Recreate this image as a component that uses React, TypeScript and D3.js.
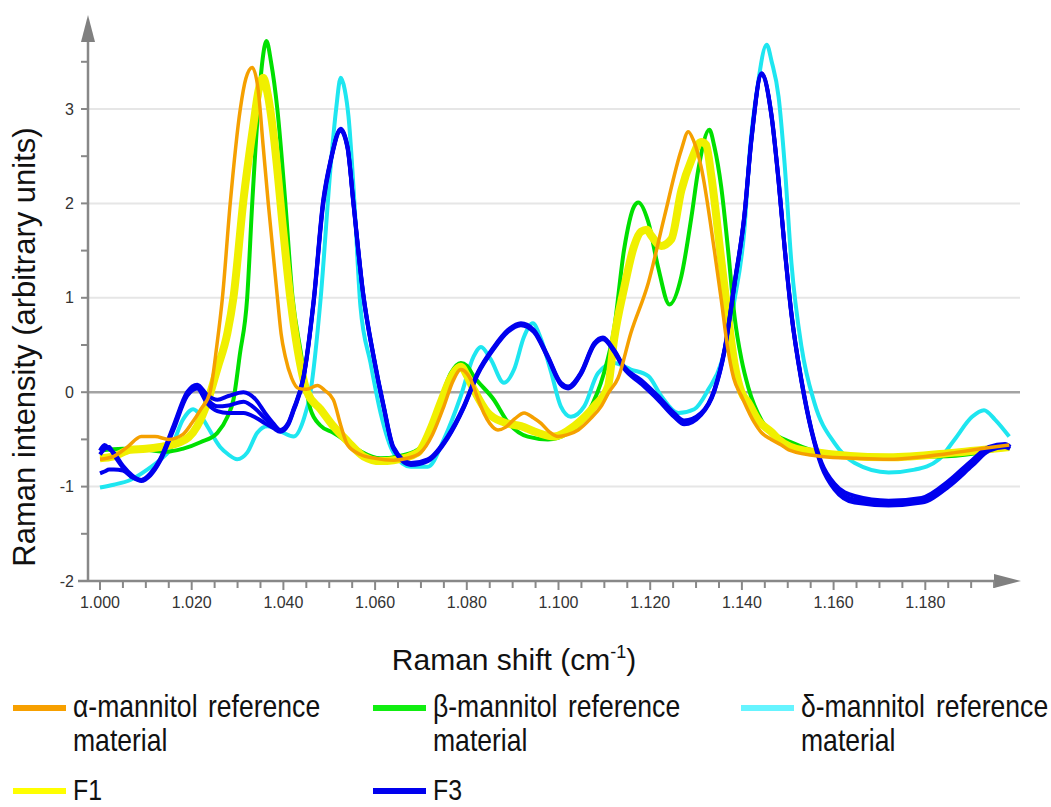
import { useRef, useEffect } from 'react';
import * as d3 from 'd3';

// Raman shift in cm-1 (axis shows it with "." as thousands separator), intensity in arbitrary units
const alphaMannitol: [number, number][] = [
  [1000, -0.71], [1003, -0.68], [1006, -0.58], [1009, -0.47], [1012, -0.47], [1015, -0.5],
  [1018, -0.45], [1020, -0.33], [1022, -0.18], [1024, 0.0], [1025.5, 0.5], [1026.7, 1.0],
  [1028.4, 2.0], [1030.6, 3.0], [1031.8, 3.32], [1033.2, 3.44], [1034.5, 3.2], [1035.6, 2.6],
  [1036.7, 2.0], [1038.7, 1.0], [1039.5, 0.62], [1040.4, 0.38], [1041.8, 0.15], [1043.3, 0.04],
  [1045, 0.03], [1047.4, 0.07], [1049, 0.02], [1050.9, -0.08], [1052.5, -0.35], [1054, -0.56],
  [1056.8, -0.66], [1060, -0.7], [1064, -0.72], [1067, -0.7], [1069.9, -0.64], [1072.5, -0.45],
  [1075, -0.15], [1077, 0.12], [1078.7, 0.24], [1080, 0.2], [1080.9, 0.13], [1082.5, -0.08],
  [1083.7, -0.22], [1085, -0.33], [1086.8, -0.4], [1088.5, -0.37], [1090.5, -0.28], [1092.5, -0.22],
  [1094.5, -0.27], [1096.2, -0.33], [1098, -0.42], [1099.9, -0.47], [1102, -0.45], [1104.3, -0.4],
  [1107, -0.28], [1109.3, -0.15], [1111, 0.0], [1113, 0.15], [1115.8, 0.63], [1119.6, 1.16],
  [1123.1, 1.86], [1126.8, 2.57], [1128.3, 2.76], [1129.5, 2.66], [1131.1, 2.39], [1134, 1.5],
  [1135.5, 0.98], [1136.8, 0.5], [1138.2, 0.15], [1139.9, -0.04], [1142.7, -0.32], [1144.3, -0.43],
  [1146.4, -0.5], [1148.6, -0.56], [1150.2, -0.61], [1157.4, -0.68], [1165, -0.7], [1172, -0.71],
  [1180, -0.68], [1186.4, -0.64], [1192, -0.6], [1198.3, -0.56],
];

const betaMannitol: [number, number][] = [
  [1000, -0.62], [1005, -0.6], [1010, -0.61], [1014.6, -0.63], [1018, -0.6], [1021.9, -0.53],
  [1025.6, -0.43], [1027.8, -0.26], [1029.1, -0.08], [1030.5, 0.4], [1032.1, 1.0], [1033.2, 2.0],
  [1034.5, 3.0], [1035.4, 3.5], [1036.3, 3.72], [1037.3, 3.5], [1038.7, 2.99], [1040.4, 2.02],
  [1042, 1.0], [1043.7, 0.45], [1045.9, -0.18], [1048, -0.35], [1050.9, -0.43], [1054, -0.53],
  [1057, -0.63], [1061.2, -0.7], [1065, -0.68], [1069.3, -0.61], [1072, -0.4], [1074.3, -0.08],
  [1076.5, 0.2], [1078.7, 0.31], [1080, 0.28], [1081.5, 0.17], [1085.9, -0.08], [1089, -0.32],
  [1093.3, -0.47], [1097.7, -0.5], [1102.1, -0.43], [1106.4, -0.22], [1109.9, 0.2], [1112.1, 0.66],
  [1114.3, 1.51], [1116.5, 1.97], [1117.4, 2.01], [1119.6, 1.8], [1121.7, 1.33], [1124.2, 0.93],
  [1126.8, 1.23], [1129, 1.86], [1130.5, 2.36], [1132.9, 2.78], [1134, 2.6], [1135.5, 2.17],
  [1137, 1.5], [1138.4, 0.8], [1139.9, 0.35], [1141.4, 0.05], [1144.3, -0.3], [1148, -0.47],
  [1150.2, -0.52], [1157.4, -0.64], [1172, -0.68], [1183, -0.68], [1198.3, -0.58],
];

const deltaMannitol: [number, number][] = [
  [1000, -1.01], [1003, -0.98], [1006.6, -0.93], [1010.3, -0.82], [1013, -0.72], [1015.3, -0.61],
  [1018.1, -0.29], [1019.5, -0.2], [1020.3, -0.18], [1022, -0.25], [1023.4, -0.36], [1026.2, -0.58],
  [1028, -0.66], [1029.9, -0.71], [1032.1, -0.64], [1034.3, -0.43], [1036.5, -0.36], [1038, -0.38],
  [1040, -0.43], [1042.2, -0.47], [1044.4, -0.29], [1045.9, 0.0], [1048.1, 0.98], [1050.3, 2.39],
  [1051.5, 3.0], [1052.5, 3.33], [1053.4, 3.2], [1054.2, 2.92], [1055.5, 2.0], [1056.8, 0.91],
  [1059, 0.31], [1061.2, -0.22], [1064, -0.64], [1067.8, -0.79], [1071.5, -0.79], [1075, -0.5],
  [1078.7, -0.04], [1081.5, 0.38], [1083.1, 0.48], [1085.2, 0.35], [1088.1, 0.1], [1090.3, 0.24],
  [1092.5, 0.59], [1094.4, 0.73], [1096.2, 0.56], [1098.4, 0.21], [1100.5, -0.15], [1102.7, -0.26],
  [1105.6, -0.15], [1108.6, 0.2], [1112.1, 0.31], [1115.8, 0.24], [1119.6, 0.17], [1122.4, -0.04],
  [1126.1, -0.22], [1129.6, -0.18], [1132.7, 0.03], [1135.5, 0.31], [1138.4, 0.98], [1140.5, 1.7],
  [1141.8, 2.6], [1143.3, 3.2], [1145.4, 3.68], [1146.5, 3.5], [1148, 3.13], [1149.3, 2.43],
  [1150.8, 1.37], [1153, 0.48], [1155.8, -0.11], [1160.2, -0.54], [1164.6, -0.75], [1172, -0.85],
  [1177.7, -0.82], [1183, -0.71], [1186.4, -0.5], [1190.2, -0.26], [1192.8, -0.19], [1195.2, -0.29],
  [1198.3, -0.47],
];

const f1: [number, number][] = [
  [1000, -0.7], [1003, -0.68], [1006.6, -0.61], [1010, -0.6], [1013.1, -0.58], [1017.5, -0.53],
  [1021.2, -0.36], [1023.4, -0.11], [1025.6, 0.25], [1027.8, 0.63], [1029.1, 1.0], [1031.3, 2.04],
  [1033.4, 2.81], [1034.6, 3.2], [1035.6, 3.33], [1036.6, 3.15], [1037.8, 2.75], [1040, 1.69],
  [1041.5, 1.0], [1043.1, 0.45], [1045.2, 0.0], [1048.1, -0.18], [1050.9, -0.36], [1054, -0.52],
  [1057.5, -0.68], [1061.2, -0.73], [1064, -0.72], [1069.3, -0.64], [1072, -0.4], [1074.3, -0.11],
  [1076.5, 0.15], [1078.7, 0.27], [1080, 0.18], [1081.5, 0.03], [1084.6, -0.22], [1088.1, -0.32],
  [1091.8, -0.36], [1095.5, -0.43], [1099, -0.47], [1103.4, -0.36], [1107.8, -0.15], [1110.8, 0.06],
  [1112.1, 0.55], [1114.3, 1.1], [1116.5, 1.55], [1118, 1.7], [1119.3, 1.72], [1120.2, 1.66],
  [1122.4, 1.55], [1124.6, 1.62], [1126.8, 2.14], [1129, 2.46], [1131.1, 2.65], [1132.2, 2.62],
  [1133.3, 2.3], [1135.5, 1.4], [1137, 0.8], [1138.4, 0.3], [1139.9, 0.0], [1141.4, -0.11],
  [1143.6, -0.3], [1146.4, -0.42], [1148, -0.5], [1153.7, -0.62], [1172, -0.69], [1186.4, -0.64],
  [1198.3, -0.58],
];

// F3: [shift, replicate 1, replicate 2, replicate 3]
const f3Replicates: number[][] = [
  [1000, -0.62, -0.66, -0.86], [1001, -0.56, -0.6, -0.84], [1002, -0.6, -0.58, -0.82],
  [1003, -0.64, -0.66, -0.82], [1005, -0.78, -0.8, -0.83], [1007, -0.88, -0.9, -0.9],
  [1009, -0.93, -0.93, -0.94], [1011, -0.86, -0.87, -0.88], [1013.1, -0.71, -0.72, -0.73],
  [1016, -0.36, -0.38, -0.4], [1019, 0.0, -0.02, -0.04], [1021.2, 0.08, 0.06, 0.04],
  [1023.4, -0.03, -0.08, -0.12], [1025.6, -0.08, -0.15, -0.2], [1028, -0.04, -0.14, -0.22],
  [1031.3, 0.0, -0.1, -0.22], [1034, -0.08, -0.18, -0.27], [1036, -0.22, -0.28, -0.33],
  [1037.8, -0.33, -0.35, -0.38], [1039.3, -0.4, -0.41, -0.42], [1041, -0.33, -0.34, -0.35],
  [1042.2, -0.18, -0.19, -0.2], [1044.4, 0.17, 0.16, 0.15], [1046.6, 0.98, 0.96, 0.95],
  [1048.7, 2.04, 2.02, 2.0], [1050.3, 2.46, 2.45, 2.44], [1052.5, 2.79, 2.78, 2.77],
  [1054, 2.6, 2.59, 2.58], [1055.3, 2.0, 1.99, 1.98], [1057.4, 1.05, 1.04, 1.03],
  [1059.7, 0.38, 0.37, 0.36], [1061.9, -0.15, -0.16, -0.17], [1064, -0.58, -0.59, -0.6],
  [1067.8, -0.75, -0.76, -0.77], [1071.5, -0.71, -0.72, -0.73], [1075.8, -0.47, -0.48, -0.49],
  [1079.3, -0.15, -0.16, -0.17], [1082.4, 0.21, 0.2, 0.19], [1085.9, 0.48, 0.47, 0.46],
  [1089, 0.66, 0.65, 0.64], [1091.8, 0.73, 0.72, 0.71], [1094.6, 0.66, 0.65, 0.64],
  [1097.7, 0.38, 0.37, 0.36], [1100.5, 0.1, 0.09, 0.08], [1102.1, 0.06, 0.05, 0.04],
  [1104.9, 0.21, 0.2, 0.19], [1107.8, 0.52, 0.51, 0.5], [1109.7, 0.58, 0.57, 0.56],
  [1112.1, 0.45, 0.44, 0.43], [1114.3, 0.27, 0.26, 0.25], [1118, 0.13, 0.11, 0.09],
  [1121.7, -0.04, -0.06, -0.08], [1125.2, -0.22, -0.24, -0.26], [1127.4, -0.3, -0.32, -0.34],
  [1131.1, -0.22, -0.23, -0.24], [1134, 0.03, 0.02, 0.01], [1136.2, 0.45, 0.44, 0.43],
  [1138.4, 1.16, 1.15, 1.14], [1140.5, 1.86, 1.85, 1.84], [1142.1, 2.7, 2.69, 2.68],
  [1144.3, 3.38, 3.37, 3.36], [1146.4, 2.96, 2.95, 2.94], [1148, 2.25, 2.24, 2.23],
  [1149.3, 1.55, 1.54, 1.53], [1150.8, 0.84, 0.83, 0.82], [1153, 0.13, 0.12, 0.11],
  [1155.2, -0.4, -0.41, -0.42], [1157.4, -0.75, -0.77, -0.79], [1160.2, -0.97, -1.0, -1.03],
  [1164.6, -1.1, -1.14, -1.17], [1172, -1.15, -1.17, -1.2], [1179.2, -1.12, -1.14, -1.17],
  [1185.1, -0.94, -0.97, -1.0], [1190.2, -0.72, -0.75, -0.78], [1193.9, -0.58, -0.6, -0.62],
  [1197.4, -0.55, -0.56, -0.58], [1198.5, -0.58, -0.58, -0.6],
];

const yTickValues = [-2, -1, 0, 1, 2, 3];
const xTickValues = [1000, 1020, 1040, 1060, 1080, 1100, 1120, 1140, 1160, 1180];

const legendRow1 = [
  { first: 'α-mannitol', second: 'reference', third: 'material', color: '#F7A000', x: 13 },
  { first: 'β-mannitol', second: 'reference', third: 'material', color: '#11EE11', x: 373 },
  { first: 'δ-mannitol', second: 'reference', third: 'material', color: '#66F4FF', x: 741 },
];
const legendRow2 = [
  { label: 'F1', color: '#FFFF00', x: 13 },
  { label: 'F3', color: '#0000EE', x: 373 },
];

const Chart = () => {
  const ref = useRef<SVGSVGElement>(null);

  useEffect(() => {
    const svg = d3.select(ref.current);
    svg.selectAll('*').remove();

    const x = d3.scaleLinear().domain([1000, 1200]).range([100, 1017]);
    const y = d3.scaleLinear().domain([-2, 3]).range([581, 109]);
    const axisX = 88;
    const axisColor = '#888888';
    const font = "'Liberation Sans', Arial, sans-serif";

    // grid
    svg.append('g')
      .selectAll('line')
      .data(yTickValues.filter(d => d !== 0 && d !== -2))
      .join('line')
      .attr('x1', axisX).attr('x2', 1020)
      .attr('y1', d => y(d)).attr('y2', d => y(d))
      .attr('stroke', '#e6e6e6').attr('stroke-width', 2);

    svg.append('line')
      .attr('x1', axisX).attr('x2', 1020)
      .attr('y1', y(0)).attr('y2', y(0))
      .attr('stroke', '#a3a3a3').attr('stroke-width', 2.5);

    const line = d3.line<[number, number]>()
      .x(d => x(d[0]))
      .y(d => y(d[1]))
      .curve(d3.curveMonotoneX);

    const plot = svg.append('g').attr('fill', 'none').attr('stroke-linejoin', 'round');

    plot.append('path').attr('d', line(deltaMannitol)).attr('stroke', '#1EE6F0').attr('stroke-width', 4);
    plot.append('path').attr('d', line(betaMannitol)).attr('stroke', '#00E000').attr('stroke-width', 4);
    plot.append('path').attr('d', line(f1)).attr('stroke', '#F0F000').attr('stroke-width', 8);

    // F3 replicates
    [1, 2, 3].forEach(k => {
      const rep = f3Replicates.map(r => [r[0], r[k]] as [number, number]);
      plot.append('path').attr('d', line(rep)).attr('stroke', '#0000EE').attr('stroke-width', 4);
    });

    plot.append('path').attr('d', line(alphaMannitol)).attr('stroke', '#F5A000').attr('stroke-width', 3.5);

    // y axis
    svg.append('line')
      .attr('x1', axisX).attr('x2', axisX).attr('y1', 582).attr('y2', 40)
      .attr('stroke', axisColor).attr('stroke-width', 2.5);
    svg.append('path').attr('d', 'M81,42 L95,42 L88,15 Z').attr('fill', '#808080');

    svg.append('g')
      .selectAll('line')
      .data(d3.range(-2, 3.6, 0.5))
      .join('line')
      .attr('x1', 81).attr('x2', axisX)
      .attr('y1', d => y(d)).attr('y2', d => y(d))
      .attr('stroke', axisColor).attr('stroke-width', 2);

    svg.append('g')
      .selectAll('text')
      .data(yTickValues)
      .join('text')
      .attr('x', 74).attr('y', d => y(d)).attr('dy', '0.35em')
      .attr('text-anchor', 'end')
      .attr('font-family', font).attr('font-size', 16).attr('fill', '#333')
      .text(d => String(d));

    // x axis
    svg.append('line')
      .attr('x1', 78).attr('x2', 996).attr('y1', 581).attr('y2', 581)
      .attr('stroke', axisColor).attr('stroke-width', 2.5);
    svg.append('path').attr('d', 'M994,574 L994,588 L1021,581 Z').attr('fill', '#808080');

    svg.append('g')
      .selectAll('line')
      .data(d3.range(1000, 1196, 5))
      .join('line')
      .attr('x1', d => x(d)).attr('x2', d => x(d))
      .attr('y1', 581).attr('y2', d => (d % 20 === 0 ? 590 : 588))
      .attr('stroke', axisColor).attr('stroke-width', 2);

    svg.append('g')
      .selectAll('text')
      .data(xTickValues)
      .join('text')
      .attr('x', d => x(d)).attr('y', 608)
      .attr('text-anchor', 'middle')
      .attr('font-family', font).attr('font-size', 16).attr('fill', '#333')
      .text(d => (d / 1000).toFixed(3));

    // axis titles
    const xTitle = svg.append('text')
      .attr('x', 514).attr('y', 670)
      .attr('text-anchor', 'middle')
      .attr('font-family', font).attr('font-size', 30).attr('fill', '#111');
    xTitle.append('tspan').text('Raman shift (cm');
    xTitle.append('tspan').attr('font-size', 18).attr('dy', -12).text('-1');
    xTitle.append('tspan').attr('dy', 12).text(')');

    svg.append('text')
      .attr('transform', 'translate(35,347) rotate(-90)')
      .attr('text-anchor', 'middle')
      .attr('font-family', font).attr('font-size', 31).attr('fill', '#111')
      .text('Raman intensity (arbitrary units)');

    // legend
    const narrowText = (tx: number, ty: number, s: string, size = 32) => {
      svg.append('text')
        .attr('transform', `translate(${tx},${ty}) scale(0.83,1)`)
        .attr('font-family', font).attr('font-size', size).attr('fill', '#111')
        .text(s);
    };

    legendRow1.forEach(item => {
      svg.append('line')
        .attr('x1', item.x).attr('x2', item.x + 53)
        .attr('y1', 708).attr('y2', 708)
        .attr('stroke', item.color).attr('stroke-width', 6);
      const tx = item.x + 60;
      narrowText(tx, 717, item.first);
      narrowText(tx + 135, 717, item.second);
      narrowText(tx, 751, item.third);
    });

    legendRow2.forEach(item => {
      svg.append('line')
        .attr('x1', item.x).attr('x2', item.x + 53)
        .attr('y1', 791).attr('y2', 791)
        .attr('stroke', item.color).attr('stroke-width', 6);
      narrowText(item.x + 60, 800, item.label, 30);
    });
  }, []);

  return (
    <svg ref={ref} width={1051} height={807} style={{ position: 'absolute', left: 0, top: 0, background: '#fff' }} />
  );
};

export default function App() {
  return <Chart />;
}
